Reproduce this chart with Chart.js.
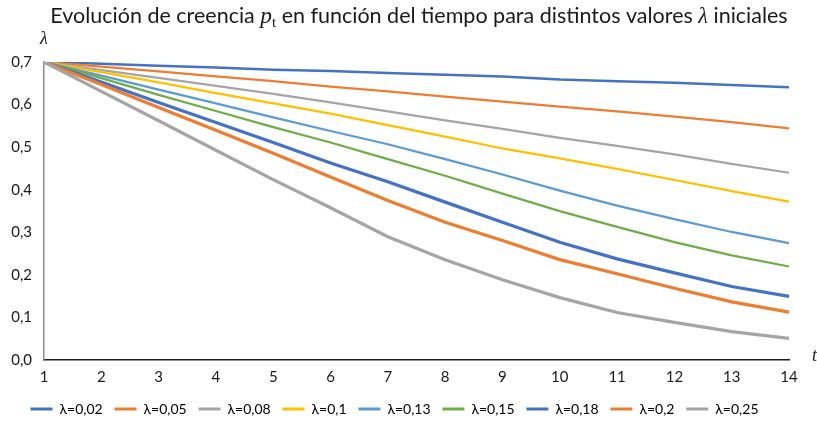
<!DOCTYPE html>
<html>
<head>
<meta charset="utf-8">
<script src="https://cdn.jsdelivr.net/npm/chart.js@4"></script>
<style>
  html, body { margin: 0; padding: 0; background: #ffffff; }
  #wrap { width: 817px; height: 426px; }
</style>
</head>
<body>
<div id="wrap"><canvas id="c" width="817" height="426"></canvas></div>
<script>
// time steps t
const tiempo = [1, 2, 3, 4, 5, 6, 7, 8, 9, 10, 11, 12, 13, 14];

// belief p_t for each initial lambda
const p002 = [0.700, 0.696, 0.691, 0.687, 0.682, 0.679, 0.674, 0.670, 0.666, 0.659, 0.655, 0.651, 0.646, 0.641];
const p005 = [0.700, 0.689, 0.678, 0.666, 0.655, 0.642, 0.631, 0.619, 0.607, 0.595, 0.584, 0.572, 0.559, 0.544];
const p008 = [0.700, 0.681, 0.663, 0.644, 0.625, 0.605, 0.584, 0.563, 0.543, 0.522, 0.503, 0.483, 0.461, 0.440];
const p010 = [0.700, 0.676, 0.652, 0.627, 0.603, 0.579, 0.552, 0.525, 0.497, 0.474, 0.449, 0.423, 0.397, 0.372];
const p013 = [0.700, 0.668, 0.635, 0.603, 0.570, 0.538, 0.507, 0.472, 0.436, 0.398, 0.363, 0.331, 0.301, 0.275];
const p015 = [0.700, 0.662, 0.623, 0.585, 0.547, 0.511, 0.472, 0.433, 0.391, 0.350, 0.313, 0.277, 0.246, 0.220];
const p018 = [0.700, 0.653, 0.605, 0.558, 0.511, 0.463, 0.419, 0.371, 0.324, 0.277, 0.238, 0.205, 0.173, 0.150];
const p020 = [0.700, 0.647, 0.593, 0.540, 0.486, 0.430, 0.375, 0.324, 0.281, 0.236, 0.203, 0.169, 0.137, 0.113];
const p025 = [0.700, 0.631, 0.562, 0.493, 0.424, 0.358, 0.290, 0.236, 0.189, 0.147, 0.112, 0.089, 0.067, 0.051];

const nombres = ['λ=0,02', 'λ=0,05', 'λ=0,08', 'λ=0,1', 'λ=0,13', 'λ=0,15', 'λ=0,18', 'λ=0,2', 'λ=0,25'];
const series = [p002, p005, p008, p010, p013, p015, p018, p020, p025];
const colores = ['#4472C4', '#ED7D31', '#A5A5A5', '#FFC000', '#5B9BD5', '#70AD47', '#4472C4', '#ED7D31', '#A5A5A5'];
const grosores = [2.5, 2.25, 2.25, 2.25, 2.25, 2.25, 3.25, 3.25, 3.25];

const FONT = 'Lato, "Open Sans", sans-serif';
const MATH = '"Liberation Serif", "DejaVu Serif", serif';
const TXT = '#1a1a1a';

// Title with math italics, plus the axis letters λ and t
const decor = {
  id: 'decor',
  afterDraw(chart) {
    const ctx = chart.ctx;
    const area = chart.chartArea;
    ctx.save();
    ctx.fillStyle = TXT;
    ctx.textBaseline = 'alphabetic';
    const parts = [
      { s: 'Evolución de creencia ', f: '21.5px ' + FONT, dy: 0 },
      { s: 'p', f: 'italic 23.3px ' + MATH, dy: 0 },
      { s: 't', f: '15px ' + MATH, dy: 4 },
      { s: ' en función del tiempo para distintos valores ', f: '21.5px ' + FONT, dy: 0 },
      { s: 'λ', f: 'italic 22.3px ' + MATH, dy: 0 },
      { s: ' iniciales', f: '21.5px ' + FONT, dy: 0 }
    ];
    let total = 0;
    parts.forEach(p => { ctx.font = p.f; p.w = ctx.measureText(p.s).width; total += p.w; });
    let x = 419 - total / 2;
    const base = 23;
    ctx.textAlign = 'left';
    parts.forEach(p => { ctx.font = p.f; ctx.fillText(p.s, x, base + p.dy); x += p.w; });

    ctx.font = 'italic 18px ' + MATH;
    ctx.textAlign = 'center';
    ctx.fillText('λ', area.left, 44);
    ctx.textAlign = 'left';
    ctx.fillText('t', area.right + 23, area.bottom + 1);
    ctx.restore();
  }
};

const datasets = series.map((d, i) => ({
  label: nombres[i],
  data: d,
  borderColor: colores[i],
  backgroundColor: colores[i],
  borderWidth: grosores[i],
  pointRadius: 0,
  tension: 0,
  fill: false,
  order: series.length - i
}));

new Chart(document.getElementById('c'), {
  type: 'line',
  data: { labels: tiempo.map(String), datasets },
  plugins: [decor],
  options: {
    responsive: false,
    animation: false,
    events: [],
    layout: { padding: { top: 62, right: 28, left: 0, bottom: 0 } },
    plugins: {
      title: { display: false },
      tooltip: { enabled: false },
      legend: {
        position: 'bottom',
        labels: {
          boxWidth: 22,
          boxHeight: 3,
          padding: 11.8,
          color: TXT,
          font: { family: FONT, size: 14 },
          generateLabels(chart) {
            return chart.data.datasets.map((ds, i) => ({
              text: ds.label,
              fillStyle: ds.borderColor,
              strokeStyle: ds.borderColor,
              lineWidth: 0,
              hidden: false,
              datasetIndex: i
            }));
          }
        }
      }
    },
    scales: {
      x: {
        type: 'category',
        offset: false,
        grid: { display: false, drawTicks: false },
        border: { display: true, color: '#1f1f1f', width: 1.5 },
        ticks: { color: TXT, font: { family: FONT, size: 15 }, padding: 8, maxRotation: 0, autoSkip: false },
        afterFit(scale) { scale.height = 30; }
      },
      y: {
        min: 0,
        max: 0.7,
        grid: { display: false, drawTicks: false },
        border: { display: true, color: '#8c8c8c', width: 1.5 },
        ticks: {
          stepSize: 0.1,
          color: TXT,
          font: { family: FONT, size: 15 },
          padding: 12,
          callback: v => v.toFixed(1).replace('.', ',')
        },
        afterFit(scale) { scale.width = 44; }
      }
    }
  }
});
</script>
</body>
</html>
